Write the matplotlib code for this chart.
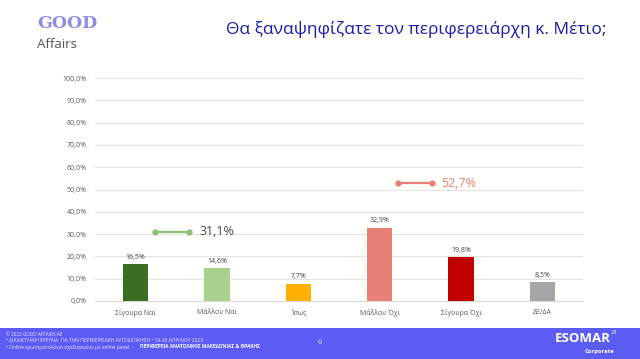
import matplotlib.pyplot as plt
from matplotlib.patches import Rectangle

plt.rcParams['font.family'] = ['Open Sans', 'DejaVu Sans']

categories = ["Σίγουρα Ναι", "Μάλλον Ναι", "Ίσως", "Μάλλον Όχι", "Σίγουρα Όχι", "ΔΕ/ΔΑ"]
values = [16.5, 14.6, 7.7, 32.9, 19.8, 8.5]
colors = ["#3b6e23", "#a9d18e", "#ffb000", "#e88078", "#c00000", "#a6a6a6"]
yticks = [0, 10, 20, 30, 40, 50, 60, 70, 80, 90, 100]

# sums for yes / no
yes_total = 31.1
no_total = 52.7

W, H = 640, 359
fig = plt.figure(figsize=(W / 100, H / 100), dpi=100)
fig.patch.set_facecolor("#fffffb")

def fx(px):
    return px / W

def fy(py):
    return 1 - py / H

ax = fig.add_axes([fx(95), fy(301), fx(583 - 95), (301 - 78) / H])
ax.set_facecolor("none")
x = list(range(len(categories)))
ax.bar(x, values, width=0.31, color=colors, zorder=3)
for xi, v in zip(x, values):
    ax.text(xi, v + 1.5, f"{v:.1f}".replace(".", ",") + "%", ha="center", va="bottom",
            fontsize=5, color="#404040")

ax.set_xlim(-0.5, 5.5)
ax.set_ylim(0, 100)
ax.set_yticks(yticks)
ax.set_yticklabels([f"{t:.1f}".replace(".", ",") + "%" for t in yticks], fontsize=5, color="#595959")
ax.set_xticks(x)
ax.set_xticklabels(categories, fontsize=5, color="#595959")
ax.tick_params(length=0, pad=6)
ax.yaxis.grid(True, color="#e3e3e3", linewidth=0.8, zorder=0)
for s in ["top", "right", "left"]:
    ax.spines[s].set_visible(False)
ax.spines["bottom"].set_color("#d9d9d9")

# yes / no summary markers
ax.plot([0.24, 0.66], [yes_total, yes_total], color="#8fbf73", lw=1.6, marker="o", ms=3.5, zorder=4)
ax.text(0.78, yes_total, f"{yes_total:.1f}".replace(".", ",") + "%", fontsize=9, color="#4a4a4a",
        va="center", ha="left")
ax.plot([3.22, 3.64], [no_total, no_total], color="#e88078", lw=1.6, marker="o", ms=3.5, zorder=4)
ax.text(3.76, no_total, f"{no_total:.1f}".replace(".", ",") + "%", fontsize=9, color="#e88078",
        va="center", ha="left")

# title
fig.text(fx(416), fy(30), "Θα ξαναψηφίζατε τον περιφερειάρχη κ. Μέτιο;", ha="center", va="center",
         fontsize=12.5, color="#1c1cb0")

# logo
fig.text(fx(37), fy(24), "GOOD", fontsize=12.5, family="DejaVu Serif", fontweight="bold",
         color="#8c8ce6", va="center", ha="left")
fig.text(fx(37), fy(44), "Affairs", fontsize=9.5, color="#555555", va="center", ha="left")

# footer band
fig.patches.append(Rectangle((0, 0), 1, fy(328), transform=fig.transFigure,
                             facecolor="#5c5cf2", edgecolor="none", zorder=0))
fig.text(fx(6), fy(335), "© 2023 GOOD AFFAIRS AE", fontsize=3.3, color="#e6e6ff", va="center")
fig.text(fx(6), fy(341), "• ΔΙΑΔΙΚΤΥΑΚΗ ΕΡΕΥΝΑ  ΓΙΑ ΤΗΝ ΠΕΡΙΦΕΡΕΙΑΚΗ ΑΥΤΟΔΙΟΙΚΗΣΗ • 19-26 ΑΠΡΙΛΙΟΥ 2023",
         fontsize=3.5, color="#e6e6ff", va="center")
fig.text(fx(6), fy(347), "• Online ερωτηματολόγιο σχεδιασμένο με online panel  -", fontsize=3.5,
         color="#e6e6ff", va="center")
fig.text(fx(140), fy(347), "ΠΕΡΙΦΕΡΕΙΑ ΑΝΑΤΟΛΙΚΗΣ ΜΑΚΕΔΟΝΙΑΣ & ΘΡΑΚΗΣ", fontsize=3.5,
         color="white", fontweight="bold", va="center")
fig.text(fx(320), fy(342), "6", fontsize=5, color="#e6e6ff", ha="center", va="center")
fig.text(fx(611), fy(339), "ESOMAR", fontsize=9.5, color="white", fontweight="bold",
         ha="right", va="center")
fig.text(fx(617), fy(333), "23", fontsize=4, color="white", ha="right", va="center")
fig.text(fx(614), fy(351), "Corporate", fontsize=4.2, color="white", fontweight="bold",
         ha="right", va="center")

fig.savefig("out.png", dpi=100, facecolor=fig.get_facecolor())
